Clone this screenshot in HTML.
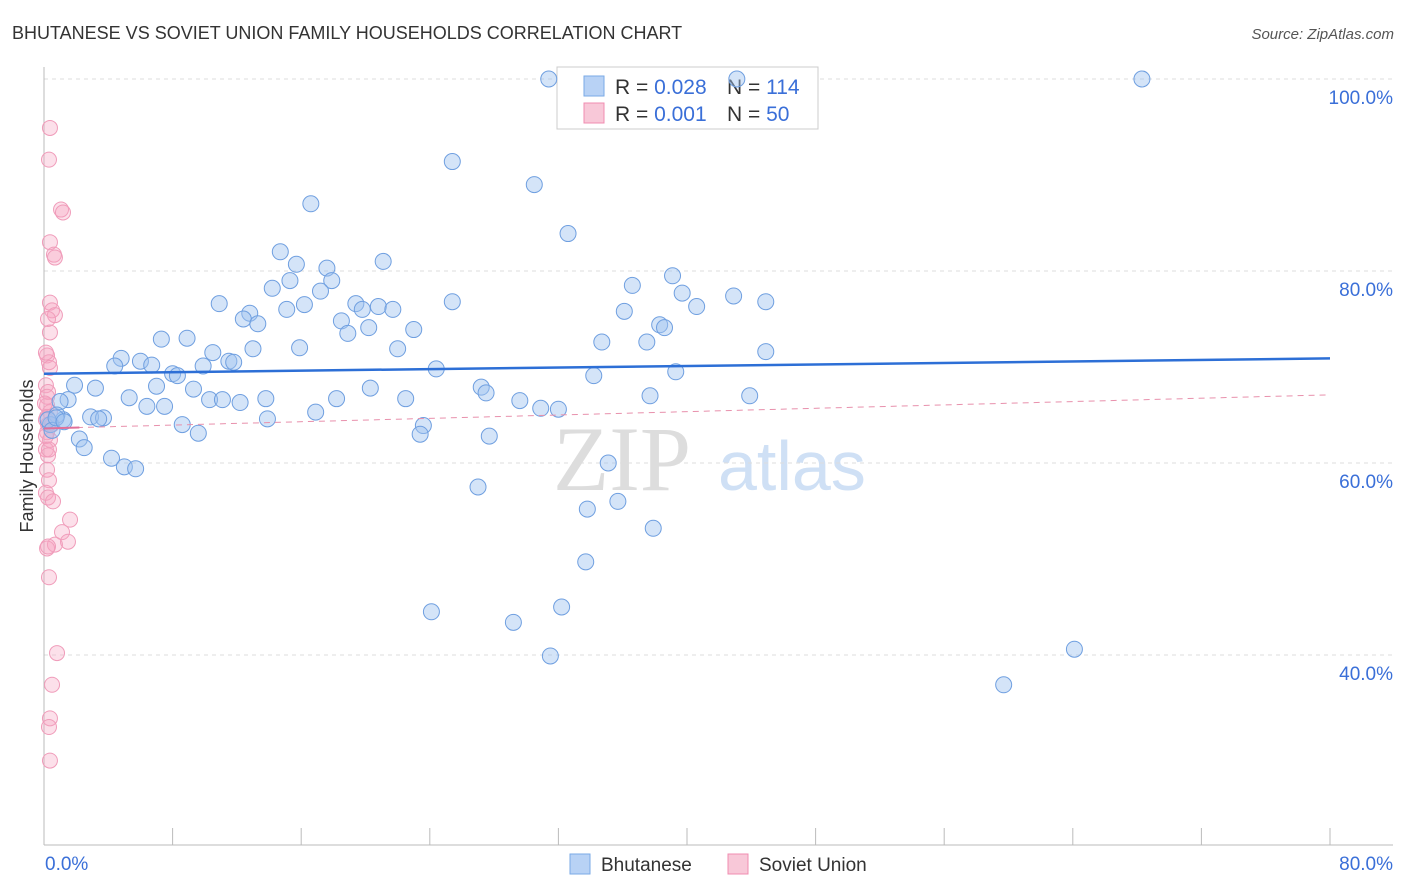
<!DOCTYPE html>
<html><head><meta charset="utf-8">
<style>
body{margin:0;background:#fff;font-family:"Liberation Sans",sans-serif;}
#wrap{position:relative;width:1406px;height:892px;overflow:hidden;}
</style></head>
<body>
<div id="wrap">
<svg id="svg" width="1406" height="892" xmlns="http://www.w3.org/2000/svg">
<text x="12" y="39" font-size="18" fill="#333">BHUTANESE VS SOVIET UNION FAMILY HOUSEHOLDS CORRELATION CHART</text>
<text x="1394" y="39" font-size="15" fill="#555" font-style="italic" text-anchor="end">Source: ZipAtlas.com</text>
<text x="33" y="456" font-size="18" fill="#333" text-anchor="middle" transform="rotate(-90 33 456)">Family Households</text>
<g>
<text x="553" y="490" font-size="92" fill="#ddd" font-family="Liberation Serif,serif">ZIP</text>
<text x="718" y="490" font-size="70" fill="#cfe0f5">atlas</text>
</g>
<g id="grid"></g><g id="axes"></g>
<g>
<rect x="557" y="67" width="261" height="62" fill="#fff" stroke="#ccc"/>
<rect x="584" y="76" width="20" height="20" fill="#b8d2f5" stroke="#7aaae6"/>
<rect x="584" y="103" width="20" height="20" fill="#f8c8d8" stroke="#f08cb0"/>
<text x="615" y="94" font-size="21" fill="#333">R = <tspan fill="#3a6fd8">0.028</tspan></text>
<text x="727" y="94" font-size="21" fill="#333">N = <tspan fill="#3a6fd8">114</tspan></text>
<text x="615" y="121" font-size="21" fill="#333">R = <tspan fill="#3a6fd8">0.001</tspan></text>
<text x="727" y="121" font-size="21" fill="#333">N = <tspan fill="#3a6fd8"> 50</tspan></text>
</g>
<g id="pink"></g><g id="blue"></g><g id="trend"></g>
<g>
<rect x="570" y="854" width="20" height="20" fill="#b8d2f5" stroke="#7aaae6"/>
<text x="601" y="871" font-size="19" fill="#333">Bhutanese</text>
<rect x="728" y="854" width="20" height="20" fill="#f8c8d8" stroke="#f08cb0"/>
<text x="759" y="871" font-size="19" fill="#333">Soviet Union</text>
</g>
</svg>
</div>
<script>
const yTicks=[40,60,80,100];
const yTickLabels=["40.0%","60.0%","80.0%","100.0%"];
const xTicks=[0,8,16,24,32,40,48,56,64,72,80];
const xEndLabels=["0.0%","80.0%"];
const blueX=[31.4,43.1,68.3,25.4,30.5,16.6,32.6,14.7,21.1,15.7,17.6,39.1,17.9,15.3,36.6,14.2,17.2,39.7,42.9,44.9,10.9,19.4,25.4,20.8,19.8,21.7,15.1,16.2,36.1,40.6,12.8,12.4,13.3,18.5,20.2,18.9,38.3,38.6,23.0,7.3,8.9,37.5,34.7,13.0,15.9,22.0,44.9,10.5,4.8,6.0,11.5,11.8,4.4,6.7,9.9,24.4,39.3,34.2,8.0,8.3,1.9,7.0,3.2,9.3,27.2,20.3,27.5,43.9,37.7,5.3,13.8,10.3,18.2,22.5,11.1,12.2,29.6,6.4,7.5,30.9,32.0,16.9,1.5,1.0,2.9,3.7,3.4,13.9,8.6,23.6,23.4,9.6,27.7,1.2,0.8,0.4,2.2,2.5,4.2,5.0,5.7,35.1,27.0,35.7,33.8,37.9,33.7,24.1,32.2,29.2,31.5,64.1,59.7,0.25,0.5,0.75,1.25];
const blueY=[100,100,100,91.4,89.0,87.0,83.9,82.0,81.0,80.7,80.3,79.5,79.0,79.0,78.5,78.2,77.9,77.7,77.4,76.8,76.6,76.6,76.8,76.3,76.0,76.0,76.0,76.5,75.8,76.3,75.6,75.0,74.5,74.8,74.1,73.5,74.4,74.1,73.9,72.9,73.0,72.6,72.6,71.9,72.0,71.9,71.6,71.5,70.9,70.6,70.6,70.5,70.1,70.2,70.1,69.8,69.5,69.1,69.3,69.1,68.1,68.0,67.8,67.7,67.9,67.8,67.3,67.0,67.0,66.8,66.7,66.6,66.7,66.7,66.6,66.3,66.5,65.9,65.9,65.7,65.6,65.3,66.6,66.4,64.8,64.7,64.6,64.6,64.0,63.9,63.0,63.1,62.8,64.5,65.0,64.0,62.5,61.6,60.5,59.6,59.4,60.0,57.5,56.0,55.2,53.2,49.7,44.5,45.0,43.4,39.9,40.6,36.9,64.5,63.4,64.7,64.3];
const pinkX=[0.37,0.31,1.06,1.18,0.37,0.62,0.68,0.37,0.5,0.68,0.25,0.37,0.19,0.31,0.37,0.12,0.25,0.19,0.37,0.12,0.25,0.19,0.37,0.12,0.25,0.19,0.31,0.12,0.25,0.56,1.62,1.12,1.49,0.68,0.19,0.31,0.81,0.5,0.37,0.31,0.37,0.19,0.06,0.12,0.5,0.12,0.25,0.31,0.19];
const pinkY=[94.9,91.6,86.4,86.1,83.0,81.7,81.4,76.7,75.9,75.4,75.0,73.6,71.2,70.5,69.9,68.1,67.4,66.0,65.3,64.5,64.0,63.2,62.4,61.4,60.8,59.3,58.2,56.9,56.4,56.0,54.1,52.8,51.8,51.5,51.1,48.1,40.2,36.9,33.4,32.5,29.0,66.9,66.2,71.5,64.0,62.8,51.3,61.4,64.8];
const blueTrend=[69.3,70.9];
const pinkTrend=[63.6,67.1];

const X0=44,X1=1330,Y100=79,PX20=192;
const xs=v=>X0+(v/80)*(X1-X0);
const ys=v=>Y100+(100-v)/20*PX20;
const NS="http://www.w3.org/2000/svg";
function mk(tag,attrs,parent){const e=document.createElementNS(NS,tag);for(const k in attrs)e.setAttribute(k,attrs[k]);document.getElementById(parent).appendChild(e);return e;}

yTicks.forEach((t,i)=>{
  const l=mk('line',{x1:44,x2:1393,y1:ys(t),y2:ys(t),stroke:'#ddd','stroke-dasharray':'4,4'},'grid');
  
  
  const tx=mk('text',{x:1393,y:ys(t)+25,'font-size':19,fill:'#3a6fd8','text-anchor':'end'},'grid');
  tx.textContent=yTickLabels[i];
  
  
});
const ya=mk('line',{x1:44,x2:44,y1:67,y2:845,stroke:'#bbb'},'axes');


const xa=mk('line',{x1:44,x2:1393,y1:845,y2:845,stroke:'#bbb'},'axes');


xTicks.forEach(t=>{
  const l=mk('line',{x1:xs(t),x2:xs(t),y1:828,y2:845,stroke:'#bbb'},'axes');
  
  
});
const xl0=mk('text',{x:45,y:870,'font-size':19,fill:'#3a6fd8'},'axes');xl0.textContent=xEndLabels[0];


const xl1=mk('text',{x:1393,y:870,'font-size':19,fill:'#3a6fd8','text-anchor':'end'},'axes');xl1.textContent=xEndLabels[1];



pinkX.forEach((v,i)=>{
  const c=mk('circle',{cx:xs(v),cy:ys(pinkY[i]),r:7.5,fill:'rgba(245,165,195,0.35)',stroke:'#f09cba','stroke-width':1},'pink');
  
  
});
blueX.forEach((v,i)=>{
  const c=mk('circle',{cx:xs(v),cy:ys(blueY[i]),r:8,fill:'rgba(160,196,240,0.45)',stroke:'#6f9fe0','stroke-width':1},'blue');
  
  
});
const tb=mk('line',{x1:xs(0),x2:xs(80),y1:ys(blueTrend[0]),y2:ys(blueTrend[1]),stroke:'#2d6fd6','stroke-width':2.5},'trend');


const tp=mk('line',{x1:xs(0),x2:xs(80),y1:ys(pinkTrend[0]),y2:ys(pinkTrend[1]),stroke:'#e890ac','stroke-width':1,'stroke-dasharray':'6,5'},'trend');


const tps=mk('line',{x1:xs(0),x2:xs(2.2),y1:ys(pinkTrend[0]),y2:ys(pinkTrend[0]+0.1),stroke:'#e0709a','stroke-width':2},'trend');


</script>
</body></html>
